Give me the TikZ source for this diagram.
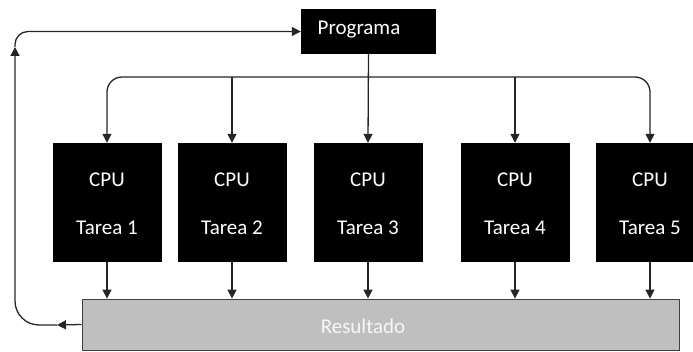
\documentclass[tikz,border=0pt]{standalone}
\usepackage{fontspec}
\setmainfont{Carlito}
\usetikzlibrary{arrows.meta}
\begin{document}
\begin{tikzpicture}[x=1pt,y=-1pt,
  cpubox/.style={fill=black,minimum width=109pt,minimum height=119pt,inner sep=0pt},
  progbox/.style={fill=black,minimum width=135pt,minimum height=45pt,inner sep=0pt},
  resbox/.style={fill=gray!50,draw=black!75,line width=0.8pt,minimum width=597pt,
    minimum height=51pt,inner sep=0pt},
  lbl/.style={text=white,font=\fontsize{21pt}{23pt}\selectfont},
  reslbl/.style={text=white!93!gray,font=\fontsize{21pt}{23pt}\selectfont},
  wire/.style={draw=black!85,line width=1.3pt},
  arr/.style={wire,-{Triangle[length=9pt,width=9pt]}}]
\useasboundingbox (0,0) rectangle (693,352);

% program and result blocks
\node[progbox] (prog) at (368.5,31.5) {};
\node[lbl] (proglbl) at (359,30) {Programa};
\node[resbox] (res) at (380.5,324.5) {};
\node[reslbl] (reslbl) at (363,326) {Resultado};

% processors
\foreach \i/\x in {1/107,2/232,3/368,4/515,5/650}{
  \node[cpubox] (cpu\i) at (\x,202.5) {};
  \node[lbl] (cpulbl\i) at (\x,180) {CPU};
  \node[lbl] (task\i) at (\x,228) {Tarea \i};
}

% distribution bus from the program to every CPU
\coordinate (bus) at (368,77);
\draw[arr,rounded corners=15pt] (bus) -| (cpu1.north);
\draw[arr,rounded corners=15pt] (bus) -| (cpu5.north);
\draw[arr] (bus -| cpu2.north) -- (cpu2.north);
\draw[arr] (bus -| cpu4.north) -- (cpu4.north);
\draw[arr] (prog.south) -- (cpu3.north);

% CPUs deliver to the result block
\foreach \i in {1,...,5}{
  \draw[arr] (cpu\i.south) -- (cpu\i.south |- res.north);
}

% feedback loop from the result back to the program
\coordinate (fbl) at (57,325);
\coordinate (fbu) at (15,47);
\draw[arr] (res.west) -- (fbl);
\draw[arr,rounded corners=24pt] (fbl) -| (fbu);
\draw[arr,rounded corners=13pt] (fbu) |- (prog.west);
\end{tikzpicture}
\end{document}
